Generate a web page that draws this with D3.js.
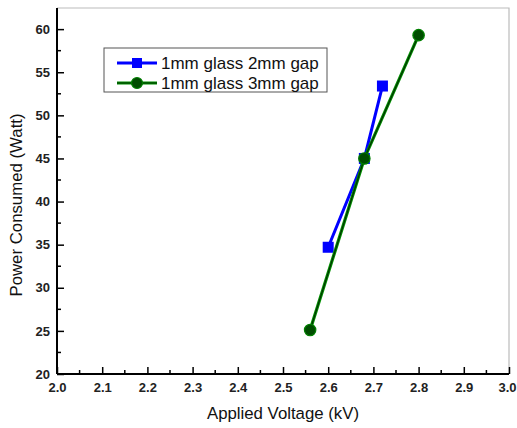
<!DOCTYPE html>
<html>
<head>
<meta charset="utf-8">
<script src="https://cdn.jsdelivr.net/npm/d3@7"></script>
<style>
  body { margin: 0; background: #fff; }
  text { font-family: Arial, "Liberation Sans", sans-serif; }
</style>
</head>
<body>
<svg id="chart" width="517" height="428"></svg>
<script>
// data
var voltage2mm = [2.6, 2.68, 2.72]
var power2mm = [34.7, 45.0, 53.4]
var voltage3mm = [2.56, 2.68, 2.8]
var power3mm = [25.1, 45.0, 59.3]
var seriesNames = ["1mm glass 2mm gap", "1mm glass 3mm gap"]
var xTicks = [2.0, 2.1, 2.2, 2.3, 2.4, 2.5, 2.6, 2.7, 2.8, 2.9, 3.0]
var yTicks = [20, 25, 30, 35, 40, 45, 50, 55, 60]

var margin = {left: 57, top: 8, right: 8, bottom: 54}
var width = 517 - margin.left - margin.right
var height = 428 - margin.top - margin.bottom

var svg = d3.select("#chart")
var g = svg.append("g").attr("transform", "translate(" + margin.left + "," + margin.top + ")")

var x = d3.scaleLinear().domain([2.0, 3.0]).range([0, width])
var y = d3.scaleLinear().domain([20, 62.45]).range([height, 0])

// frame (top / right light grey)
g.append("path")
  .attr("d", "M0,0H" + width + "V" + height)
  .attr("fill", "none")
  .attr("stroke", "#bbb")
  .attr("stroke-width", 1.2)

// minor ticks
var xMinor = d3.range(2.05, 3.0, 0.1)
var yMinor = d3.range(22.5, 62, 5)

g.selectAll(".xminor").data(xMinor).enter().append("line")
  .attr("x1", function(d){ return x(d) }).attr("x2", function(d){ return x(d) })
  .attr("y1", height).attr("y2", height - 4)
  .attr("stroke", "#000").attr("stroke-width", 1.5)
g.selectAll(".yminor").data(yMinor).enter().append("line")
  .attr("y1", function(d){ return y(d) }).attr("y2", function(d){ return y(d) })
  .attr("x1", 0).attr("x2", 4)
  .attr("stroke", "#000").attr("stroke-width", 1.5)

// axes
var xAxis = g.append("g")
  .attr("transform", "translate(0," + height + ")")
  .call(d3.axisBottom(x).tickValues(xTicks).tickFormat(d3.format(".1f")).tickSizeInner(-7).tickSizeOuter(0).tickPadding(9))
var yAxis = g.append("g")
  .call(d3.axisLeft(y).tickValues(yTicks).tickSizeInner(-7).tickSizeOuter(0).tickPadding(7))

// extend axis lines to the frame
yAxis.select(".domain").attr("d", "M0," + height + "V0")
xAxis.select(".domain").attr("d", "M0,0H" + width)

g.selectAll(".domain").attr("stroke", "#000").attr("stroke-width", 2)
g.selectAll(".tick line").attr("stroke", "#000").attr("stroke-width", 1.5)
g.selectAll(".tick text")
  .attr("font-size", 13)
  .attr("font-weight", "bold")
  .attr("fill", "#222")
  .attr("font-family", "Arial, 'Liberation Sans', sans-serif")

// keep the last x label inside the window
xAxis.selectAll(".tick text").filter(function(d){ return d == 3.0 }).attr("dx", -2)

// axis titles
svg.append("text")
  .attr("x", 283)
  .attr("y", 419)
  .attr("text-anchor", "middle")
  .attr("font-size", 16.8)
  .attr("fill", "#111")
  .text("Applied Voltage (kV)")
svg.append("text")
  .attr("transform", "translate(22,205) rotate(-90)")
  .attr("text-anchor", "middle")
  .attr("font-size", 16.8)
  .attr("fill", "#111")
  .text("Power Consumed (Watt)")

// series
var data2 = voltage2mm.map(function(v, i){ return {x: v, y: power2mm[i]} })
var data3 = voltage3mm.map(function(v, i){ return {x: v, y: power3mm[i]} })

var line = d3.line().x(function(d){ return x(d.x) }).y(function(d){ return y(d.y) })

g.append("path").datum(data2)
  .attr("d", line).attr("fill", "none")
  .attr("stroke", "#0000ff").attr("stroke-width", 3)
g.selectAll(".sq").data(data2).enter().append("rect")
  .attr("x", function(d){ return x(d.x) - 5.5 })
  .attr("y", function(d){ return y(d.y) - 5.5 })
  .attr("width", 11).attr("height", 11)
  .attr("fill", "#0000ff")

g.append("path").datum(data3)
  .attr("d", line).attr("fill", "none")
  .attr("stroke", "#009000").attr("stroke-width", 3.2)
g.append("path").datum(data3)
  .attr("d", line).attr("fill", "none")
  .attr("stroke", "#003300").attr("stroke-width", 1.2)
g.selectAll(".dot").data(data3).enter().append("circle")
  .attr("cx", function(d){ return x(d.x) })
  .attr("cy", function(d){ return y(d.y) })
  .attr("r", 5.7)
  .attr("fill", "#004d00")
  .attr("stroke", "#008000").attr("stroke-width", 1.2)

// legend
var legend = svg.append("g").attr("transform", "translate(104,48)")
legend.append("rect")
  .attr("width", 223).attr("height", 44)
  .attr("fill", "#fff").attr("stroke", "#555").attr("stroke-width", 1)

var rowY = [15, 35]
// blue row
legend.append("line").attr("x1", 13).attr("x2", 53).attr("y1", rowY[0]).attr("y2", rowY[0])
  .attr("stroke", "#0000ff").attr("stroke-width", 3)
legend.append("rect").attr("x", 28).attr("y", rowY[0] - 5).attr("width", 10).attr("height", 10)
  .attr("fill", "#0000ff")
// green row
legend.append("line").attr("x1", 13).attr("x2", 53).attr("y1", rowY[1]).attr("y2", rowY[1])
  .attr("stroke", "#009000").attr("stroke-width", 3.2)
legend.append("line").attr("x1", 13).attr("x2", 53).attr("y1", rowY[1]).attr("y2", rowY[1])
  .attr("stroke", "#003300").attr("stroke-width", 1.2)
legend.append("circle").attr("cx", 33).attr("cy", rowY[1]).attr("r", 5.5)
  .attr("fill", "#004d00").attr("stroke", "#008000").attr("stroke-width", 1.2)

legend.selectAll(".lt").data(seriesNames).enter().append("text")
  .attr("x", 57)
  .attr("y", function(d, i){ return rowY[i] + 6 })
  .attr("font-size", 17)
  .attr("fill", "#111")
  .text(function(d){ return d })
</script>
</body>
</html>
